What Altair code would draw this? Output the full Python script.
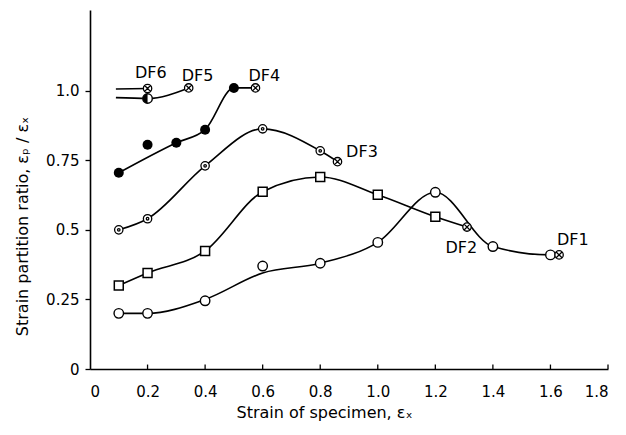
import altair as alt
import pandas as pd

# ---- data ----
# markers (measured points)
df1_x = [0.1, 0.2, 0.4, 0.6, 0.8, 1.0, 1.2, 1.4, 1.6]
df1_y = [0.20, 0.20, 0.245, 0.37, 0.38, 0.455, 0.635, 0.44, 0.41]
df2_x = [0.1, 0.2, 0.4, 0.6, 0.8, 1.0, 1.2]
df2_y = [0.30, 0.345, 0.424, 0.637, 0.69, 0.626, 0.547]
df3_x = [0.1, 0.2, 0.4, 0.6, 0.8]
df3_y = [0.50, 0.54, 0.73, 0.863, 0.784]
df4_x = [0.1, 0.2, 0.3, 0.4, 0.5]
df4_y = [0.705, 0.806, 0.813, 0.86, 1.01]
df5_x = [0.2]
df5_y = [0.972]
# fracture points (crossed circles)
frac_x = [1.63, 1.31, 0.86, 0.575, 0.343, 0.2]
frac_y = [0.41, 0.51, 0.745, 1.01, 1.01, 1.008]

# fitted curves
c1_x = [0.1, 0.2, 0.4, 0.6, 0.8, 1.0, 1.2, 1.4, 1.6, 1.63]
c1_y = [0.20, 0.20, 0.25, 0.345, 0.38, 0.455, 0.635, 0.44, 0.41, 0.41]
c2_x = [0.1, 0.2, 0.4, 0.6, 0.8, 1.0, 1.2, 1.31]
c2_y = [0.30, 0.345, 0.424, 0.637, 0.69, 0.626, 0.547, 0.51]
c3_x = [0.1, 0.2, 0.4, 0.6, 0.8, 0.86]
c3_y = [0.50, 0.54, 0.73, 0.863, 0.784, 0.745]
c4_x = [0.1, 0.3, 0.4, 0.5, 0.575]
c4_y = [0.705, 0.813, 0.86, 1.01, 1.01]
c5_x = [0.09, 0.2, 0.343]
c5_y = [0.975, 0.972, 1.01]
c6_x = [0.09, 0.2]
c6_y = [1.006, 1.008]

label_text = ["DF1", "DF2", "DF3", "DF4", "DF5", "DF6"]
label_x = [1.678, 1.29, 0.945, 0.606, 0.374, 0.211]
label_y = [0.464, 0.435, 0.779, 1.054, 1.054, 1.065]

xtick_vals = [0.2, 0.4, 0.6, 0.8, 1.0, 1.2, 1.4, 1.6, 1.8]

# ---- tables ----
curves = []
for name, xs, ys in [("DF1", c1_x, c1_y), ("DF2", c2_x, c2_y), ("DF3", c3_x, c3_y),
                     ("DF4", c4_x, c4_y), ("DF5", c5_x, c5_y), ("DF6", c6_x, c6_y)]:
    for i, (a, b) in enumerate(zip(xs, ys)):
        curves.append({"series": name, "x": a, "y": b, "o": i})
curves = pd.DataFrame(curves)

def pts(xs, ys):
    return pd.DataFrame({"x": xs, "y": ys})

X = alt.X("x:Q", scale=alt.Scale(domain=[0, 1.8], nice=False),
          axis=alt.Axis(values=[0, 0.2, 0.4, 0.6, 0.8, 1.0, 1.2, 1.4, 1.6, 1.8],
                        labelExpr="datum.value == 0 ? '0' : format(datum.value, '.1f')",
                        tickSize=0, labelPadding=15, title="Strain of specimen, εₓ",
                        titleFontSize=16, titleX=234, titleY=43, titleBaseline="middle",
                        titleAlign="center"))
Y = alt.Y("y:Q", scale=alt.Scale(domain=[0, 1.29], nice=False),
          axis=alt.Axis(values=[0, 0.25, 0.5, 0.75, 1.0],
                        labelExpr="datum.value == 1 ? '1.0' : '' + datum.value",
                        tickSize=5, labelPadding=6,
                        title="Strain partition ratio,  εₚ / εₓ", titleFontSize=16,
                        titleX=-68, titleY=216, titleBaseline="middle", titleAlign="center"))

lines = alt.Chart(curves).mark_line(color="black", strokeWidth=1.6, interpolate="monotone").encode(
    x=X, y=Y, detail="series:N", order="o:Q")

xticks = alt.Chart(pd.DataFrame({"x": xtick_vals, "y": [0] * len(xtick_vals),
                                 "y2": [0.016] * len(xtick_vals)})).mark_rule(
    color="black", strokeWidth=1.3).encode(x="x:Q", y="y:Q", y2="y2:Q")

circle_path = "M-1,0A1,1 0 1,1 1,0A1,1 0 1,1 -1,0Z"
crossed = circle_path + "M-0.7,-0.7L0.7,0.7M-0.7,0.7L0.7,-0.7"
dotted = circle_path + "M-0.3,0A0.3,0.3 0 1,1 0.3,0A0.3,0.3 0 1,1 -0.3,0Z"
half = "M0,-1A1,1 0 0,0 0,1Z"

open_c = alt.Chart(pts(df1_x, df1_y)).mark_point(
    shape="circle", size=90, filled=True, fill="white", stroke="black", strokeWidth=1.4, opacity=1
).encode(x="x:Q", y="y:Q")
squares = alt.Chart(pts(df2_x, df2_y)).mark_point(
    shape="square", size=80, filled=True, fill="white", stroke="black", strokeWidth=1.5, opacity=1
).encode(x="x:Q", y="y:Q")
dots = alt.Chart(pts(df3_x, df3_y)).mark_point(
    shape=dotted, size=70, filled=True, fill="white", stroke="black", strokeWidth=1.3, opacity=1
).encode(x="x:Q", y="y:Q")
filled = alt.Chart(pts(df4_x, df4_y)).mark_point(
    shape="circle", size=100, filled=True, color="black", opacity=1
).encode(x="x:Q", y="y:Q")
half_o = alt.Chart(pts(df5_x, df5_y)).mark_point(
    shape="circle", size=90, filled=True, fill="white", stroke="black", strokeWidth=1.4, opacity=1
).encode(x="x:Q", y="y:Q")
half_f = alt.Chart(pts(df5_x, df5_y)).mark_point(
    shape=half, size=90, filled=True, color="black", opacity=1
).encode(x="x:Q", y="y:Q")
fracs = alt.Chart(pts(frac_x, frac_y)).mark_point(
    shape=crossed, size=70, filled=True, fill="white", stroke="black", strokeWidth=1.3, opacity=1
).encode(x="x:Q", y="y:Q")

labels = alt.Chart(pd.DataFrame({"t": label_text, "x": label_x, "y": label_y})).mark_text(
    font="DejaVu Sans", fontSize=16, color="black", align="center", baseline="middle"
).encode(x="x:Q", y="y:Q", text="t:N")

chart = alt.layer(lines, xticks, open_c, squares, dots, filled, half_o, half_f, fracs, labels).properties(
    width=518, height=359,
    autosize=alt.AutoSizeParams(type="none"),
    padding={"left": 82, "top": 2, "right": 10, "bottom": 58},
    background="white",
).configure_view(stroke=None).configure_axis(
    grid=False, domainColor="black", domainWidth=1.6, tickColor="black", tickWidth=1.3,
    labelFont="DejaVu Sans", labelFontSize=15, labelColor="black",
    titleFont="DejaVu Sans", titleFontWeight="normal", titleColor="black",
)

chart.save("out.html", embed_options={"renderer": "svg", "actions": False})
